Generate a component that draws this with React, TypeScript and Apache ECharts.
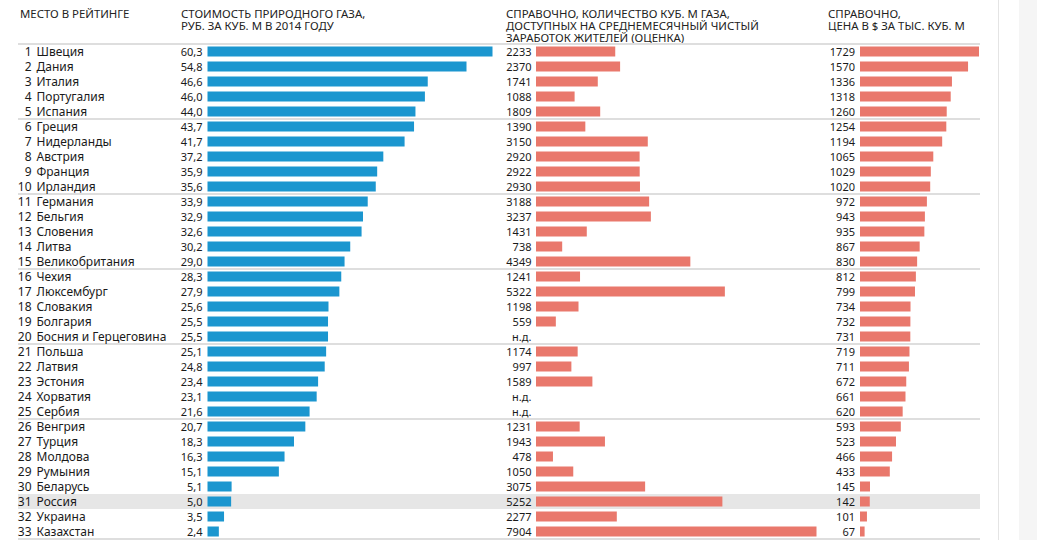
import React, { useEffect, useRef } from "react";
import * as echarts from "echarts";

const countries = [
  "Швеция", "Дания", "Италия", "Португалия", "Испания",
  "Греция", "Нидерланды", "Австрия", "Франция", "Ирландия",
  "Германия", "Бельгия", "Словения", "Литва", "Великобритания",
  "Чехия", "Люксембург", "Словакия", "Болгария", "Босния и Герцеговина",
  "Польша", "Латвия", "Эстония", "Хорватия", "Сербия",
  "Венгрия", "Турция", "Молдова", "Румыния", "Беларусь",
  "Россия", "Украина", "Казахстан",
];
const ranks = countries.map((_, i) => String(i + 1));
const gasPriceRub = [
  60.3, 54.8, 46.6, 46.0, 44.0, 43.7, 41.7, 37.2, 35.9, 35.6,
  33.9, 32.9, 32.6, 30.2, 29.0, 28.3, 27.9, 25.6, 25.5, 25.5,
  25.1, 24.8, 23.4, 23.1, 21.6, 20.7, 18.3, 16.3, 15.1, 5.1,
  5.0, 3.5, 2.4,
];
const cubicMetersPerSalary: (number | null)[] = [
  2233, 2370, 1741, 1088, 1809, 1390, 3150, 2920, 2922, 2930,
  3188, 3237, 1431, 738, 4349, 1241, 5322, 1198, 559, null,
  1174, 997, 1589, null, null, 1231, 1943, 478, 1050, 3075,
  5252, 2277, 7904,
];
const priceUsd = [
  1729, 1570, 1336, 1318, 1260, 1254, 1194, 1065, 1029, 1020,
  972, 943, 935, 867, 830, 812, 799, 734, 732, 731,
  719, 711, 672, 661, 620, 593, 523, 466, 433, 145,
  142, 101, 67,
];
const highlighted = "Россия";
const headerRank = ["МЕСТО В РЕЙТИНГЕ"];
const headerPrice = ["СТОИМОСТЬ ПРИРОДНОГО ГАЗА,", "РУБ. ЗА КУБ. М В 2014 ГОДУ"];
const headerVolume = [
  "СПРАВОЧНО, КОЛИЧЕСТВО КУБ. М ГАЗА,",
  "ДОСТУПНЫХ НА СРЕДНЕМЕСЯЧНЫЙ ЧИСТЫЙ",
  "ЗАРАБОТОК ЖИТЕЛЕЙ (ОЦЕНКА)",
];
const headerUsd = ["СПРАВОЧНО,", "ЦЕНА В $ ЗА ТЫС. КУБ. М"];
const naText = "н.д.";

const FONT = "'Noto Sans', sans-serif";
const BLUE = "#1b96cf";
const RED = "#e9786c";
const TEXT = "#1a1a1a";

export default function App() {
  const ref = useRef<HTMLDivElement>(null);
  useEffect(() => {
    if (!ref.current) return;
    const chart = echarts.init(ref.current, null, { renderer: "svg" });
    const top = 44;
    const height = 495;
    const g0Left = 207.5;
    const labelBase = {
      interval: 0,
      fontFamily: FONT,
      color: TEXT,
    };
    const hiddenCat = {
      type: "category" as const,
      position: "left" as const,
      inverse: true,
      data: countries,
      axisLine: { show: false },
      axisTick: { show: false },
      z: 5,
    };
    const header = (x: number, lines: string[]) =>
      lines.map((text, k) => ({
        type: "text",
        x,
        y: 13.5 + k * 12,
        style: {
          text,
          fontFamily: FONT,
          fontSize: 11.4,
          fill: "#222",
          textVerticalAlign: "middle",
        },
      }));
    chart.setOption({
      animation: false,
      backgroundColor: "#ffffff",
      grid: [
        { left: g0Left, width: 285, top, height },
        { left: 536, width: 280.5, top, height },
        { left: 860, width: 119, top, height },
        { left: 18, width: 962, top, height },
      ],
      xAxis: [
        { type: "value", gridIndex: 0, min: 0, max: "dataMax", show: false },
        { type: "value", gridIndex: 1, min: 0, max: "dataMax", show: false },
        { type: "value", gridIndex: 2, min: 0, max: "dataMax", show: false },
        { type: "value", gridIndex: 3, min: 0, max: 1, show: false },
      ],
      yAxis: [
        {
          ...hiddenCat,
          gridIndex: 3,
          z: 0,
          axisLabel: { show: false },
          splitLine: {
            show: true,
            interval: (index: number) => index % 5 === 0 && index <= 25,
            lineStyle: { color: "#dedede", width: 2 },
          },
        },
        {
          ...hiddenCat,
          gridIndex: 0,
          axisLabel: {
            ...labelBase,
            fontSize: 11,
            margin: 5,
            formatter: (_v: string, i: number) => gasPriceRub[i].toFixed(1).replace(".", ","),
          },
        },
        {
          ...hiddenCat,
          gridIndex: 0,
          axisLabel: {
            ...labelBase,
            fontSize: 12,
            align: "right",
            margin: g0Left - 31.5,
            formatter: (_v: string, i: number) => ranks[i],
          },
        },
        {
          ...hiddenCat,
          gridIndex: 0,
          axisLabel: {
            ...labelBase,
            fontSize: 12,
            align: "left",
            margin: g0Left - 36.5,
            formatter: (v: string) => v,
          },
        },
        {
          ...hiddenCat,
          gridIndex: 1,
          axisLabel: {
            ...labelBase,
            fontSize: 11,
            margin: 4.5,
            formatter: (_v: string, i: number) => {
              const d = cubicMetersPerSalary[i];
              return d == null ? naText : String(d);
            },
          },
        },
        {
          ...hiddenCat,
          gridIndex: 2,
          axisLabel: {
            ...labelBase,
            fontSize: 11,
            margin: 5,
            formatter: (_v: string, i: number) => String(priceUsd[i]),
          },
        },
      ],
      series: [
        {
          type: "bar",
          xAxisIndex: 3,
          yAxisIndex: 0,
          data: countries.map((c) => (c === highlighted ? 1 : null)),
          barWidth: "100%",
          itemStyle: { color: "#e6e6e6" },
          silent: true,
          z: 1,
        },
        {
          type: "bar",
          xAxisIndex: 0,
          yAxisIndex: 1,
          data: gasPriceRub,
          barWidth: 10,
          itemStyle: { color: BLUE },
          silent: true,
        },
        {
          type: "bar",
          xAxisIndex: 1,
          yAxisIndex: 4,
          data: cubicMetersPerSalary,
          barWidth: 10,
          itemStyle: { color: RED },
          silent: true,
        },
        {
          type: "bar",
          xAxisIndex: 2,
          yAxisIndex: 5,
          data: priceUsd,
          barWidth: 10,
          itemStyle: { color: RED },
          silent: true,
        },
      ],
      graphic: [
        ...header(20, headerRank),
        ...header(181, headerPrice),
        ...header(506, headerVolume),
        ...header(828, headerUsd),
        {
          type: "line",
          shape: { x1: 998.5, y1: 0, x2: 998.5, y2: 540 },
          style: { stroke: "#e4e4e4", lineWidth: 1 },
        },
        {
          type: "rect",
          shape: { x: 1019, y: 0, width: 18, height: 540 },
          style: { fill: "#f5f5f5" },
        },
      ],
    });
    return () => chart.dispose();
  }, []);
  return (
    <div
      ref={ref}
      style={{ position: "fixed", left: 0, top: 0, width: 1037, height: 540 }}
    />
  );
}
